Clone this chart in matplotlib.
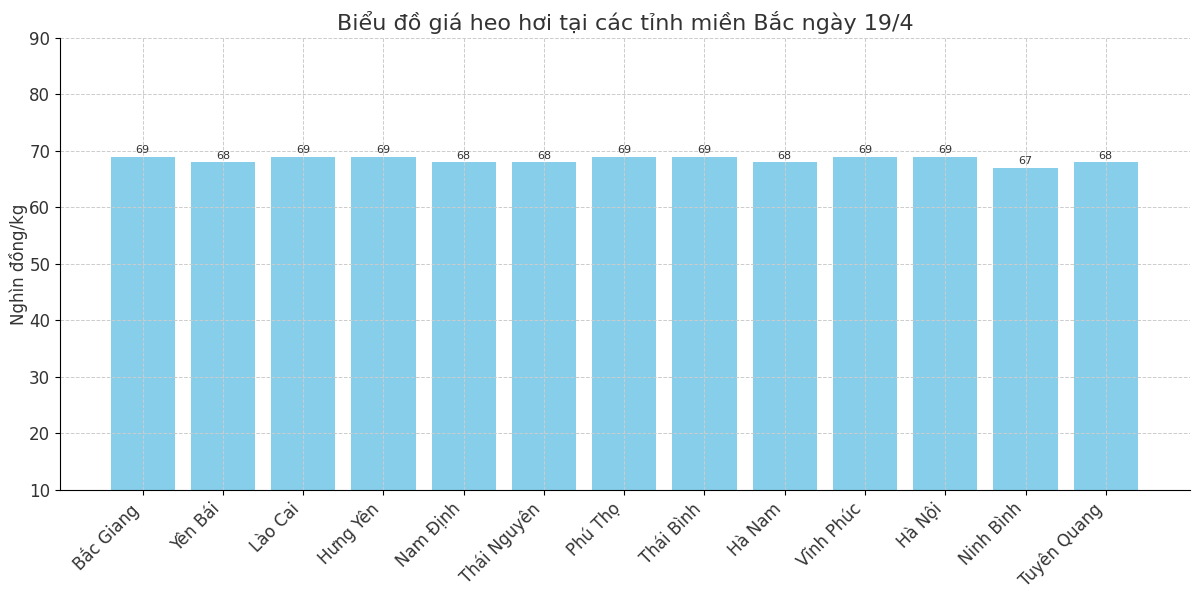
import matplotlib.pyplot as plt

# data
provinces = ['Bắc Giang', 'Yên Bái', 'Lào Cai', 'Hưng Yên', 'Nam Định', 'Thái Nguyên',
             'Phú Thọ', 'Thái Bình', 'Hà Nam', 'Vĩnh Phúc', 'Hà Nội', 'Ninh Bình', 'Tuyên Quang']
prices = [69, 68, 69, 69, 68, 68, 69, 69, 68, 69, 69, 67, 68]

txt = '#333333'
plt.rcParams['font.family'] = ['DejaVu Sans']

f = plt.figure(figsize=(12, 5.95), dpi=100)
ax = f.add_axes([0.05, 0.1765, 0.9417, 0.7597])

bars = ax.bar(range(len(provinces)), prices, width=0.8, color='skyblue')
for b, v in zip(bars, prices):
    ax.text(b.get_x() + b.get_width() / 2, v + 0.3, str(v), ha='center', va='bottom',
            fontsize=8, color=txt)

ax.set_ylim(10, 90)
ax.set_xlim(-1.03, 13.05)
ax.set_xticks(range(len(provinces)))
ax.set_xticklabels(provinces, rotation=45, ha='right', fontsize=12, color=txt)
ax.tick_params(axis='y', labelsize=12, labelcolor=txt)
ax.set_ylabel('Nghìn đồng/kg', fontsize=12, color=txt, labelpad=1)
ax.set_title('Biểu đồ giá heo hơi tại các tỉnh miền Bắc ngày 19/4', fontsize=16, color=txt)
ax.grid(True, linestyle='--', color='#cccccc', linewidth=0.7)
ax.spines['top'].set_visible(False)
ax.spines['right'].set_visible(False)

f.savefig('out.png', dpi=100)
